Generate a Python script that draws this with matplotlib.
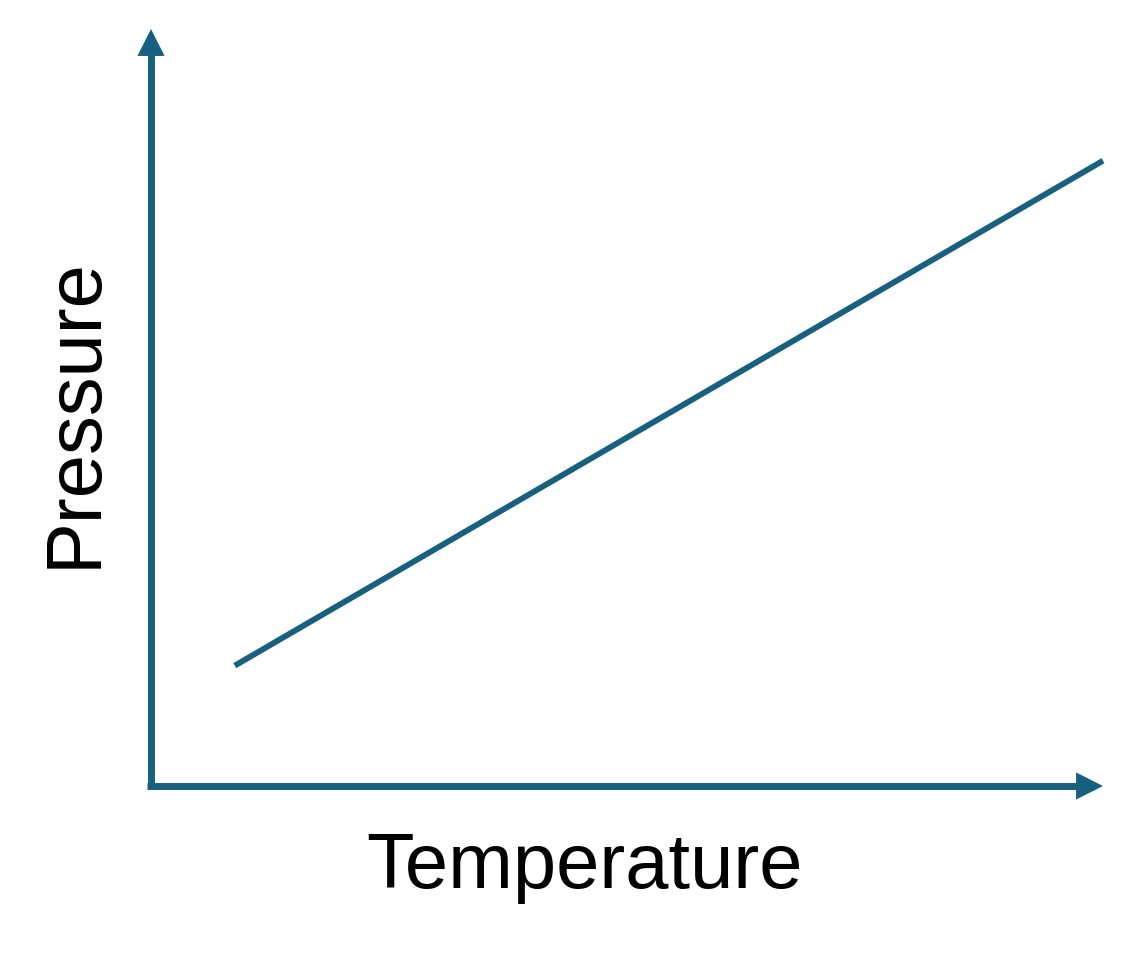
import matplotlib.pyplot as plt

# line endpoints (axes run 0..1 on both sides)
temperature = [0.088, 1.0]
pressure = [0.159, 0.826]

x_label = "Temperature"
y_label = "Pressure"

color = "#17607f"

fig = plt.figure(figsize=(11.33, 9.62), dpi=100)
ax = fig.add_axes([151 / 1133, 175 / 962, 952 / 1133, 757 / 962])
ax.set_xlim(0, 1)
ax.set_ylim(0, 1)
ax.axis("off")

ax.plot(temperature, pressure, color=color, lw=4.2, solid_capstyle="butt", clip_on=False)

# axis shafts (stop where the heads begin)
tr = ax.transAxes
ax.plot([-0.004, 0.975], [0, 0], color=color, lw=5, solid_capstyle="butt",
        transform=tr, clip_on=False)
ax.plot([0, 0], [-0.0045, 0.97], color=color, lw=5, solid_capstyle="butt",
        transform=tr, clip_on=False)

# filled arrow heads
head = dict(arrowstyle="-|>,head_length=0.97,head_width=0.49", color=color,
            lw=0, mutation_scale=20, shrinkA=0, shrinkB=0)
ax.annotate("", xy=(1.0, 0), xytext=(0.9, 0), xycoords="axes fraction",
            arrowprops=head, annotation_clip=False)
ax.annotate("", xy=(0, 1.0), xytext=(0, 0.9), xycoords="axes fraction",
            arrowprops=head, annotation_clip=False)

fig.text(585 / 1133, 1 - 868 / 962, x_label, ha="center", va="center",
         fontsize=56, family="Liberation Sans")
fig.text(75 / 1133, 1 - 413 / 962, y_label, ha="center", va="center",
         fontsize=56, family="Liberation Sans", rotation=90)

fig.savefig("out.png", dpi=100)
